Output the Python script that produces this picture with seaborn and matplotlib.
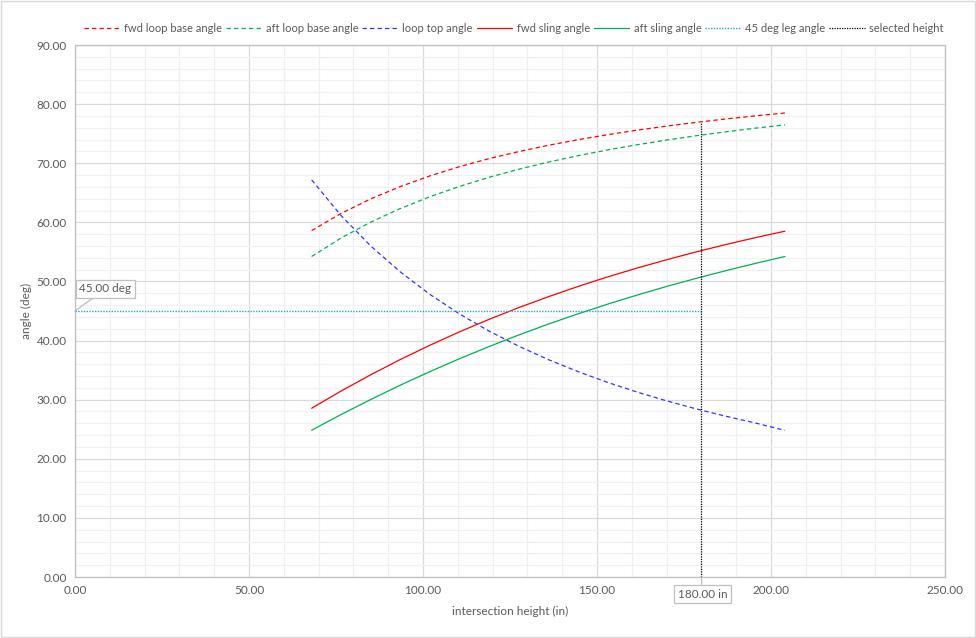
import matplotlib
matplotlib.use("Agg")
import matplotlib.pyplot as plt
from matplotlib.ticker import MultipleLocator, FuncFormatter
from matplotlib.lines import Line2D
import seaborn as sns
import pandas as pd

# ---- data ----
height = [68, 76.5, 85, 93.5, 102, 110.5, 119, 127.5, 136, 144.5, 153, 161.5,
          170, 178.5, 187, 195.5, 204]
fwd_loop_base = [58.60, 61.52, 63.97, 66.06, 67.86, 69.42, 70.78, 71.97, 73.03,
                 73.97, 74.82, 75.59, 76.28, 76.91, 77.49, 78.01, 78.50]
aft_loop_base = [54.22, 57.36, 60.04, 62.34, 64.34, 66.08, 67.62, 68.98, 70.19,
                 71.27, 72.25, 73.12, 73.92, 74.65, 75.31, 75.93, 76.49]
loop_top = [67.18, 61.12, 55.99, 51.60, 47.80, 44.50, 41.60, 39.05, 36.78,
            34.76, 32.93, 31.29, 29.80, 28.44, 27.20, 26.06, 24.80]
fwd_sling = [28.55, 31.47, 34.22, 36.80, 39.21, 41.48, 43.59, 45.57, 47.41,
             49.14, 50.76, 52.26, 53.67, 55.00, 56.24, 57.41, 58.50]
aft_sling = [24.83, 27.50, 30.03, 32.46, 34.75, 36.93, 38.99, 40.94, 42.78,
             44.51, 46.15, 47.69, 49.15, 50.52, 51.82, 53.05, 54.22]
leg45_x = [0, 180]
leg45_y = [45, 45]
sel_x = [180, 180]
sel_y = [0, 77.0]

series_names = ["fwd loop base angle", "aft loop base angle", "loop top angle",
                "fwd sling angle", "aft sling angle", "45 deg leg angle",
                "selected height"]
x_ticks = [0, 50, 100, 150, 200, 250]
y_ticks = [0, 10, 20, 30, 40, 50, 60, 70, 80, 90]

# ---- styling ----
sns.set_style("white")
plt.rcParams['font.family'] = ['Lato', 'DejaVu Sans']
TXT = "#595959"

fig = plt.figure(figsize=(9.76, 6.38), dpi=100)
ax = fig.add_axes([75/976, 1-577/638, 870/976, 532/638])

dash = (3.5, 2.5)
styles = {
    "fwd loop base angle": dict(color="#FF0000", ls=(0, dash), lw=0.9),
    "aft loop base angle": dict(color="#00B050", ls=(0, dash), lw=0.9),
    "loop top angle": dict(color="#3333FF", ls=(0, dash), lw=0.9),
    "fwd sling angle": dict(color="#FF0000", ls="-", lw=0.9),
    "aft sling angle": dict(color="#00B050", ls="-", lw=0.9),
    "45 deg leg angle": dict(color="#1FA3E0", ls=(0, (1, 1)), lw=1.0),
    "selected height": dict(color="#000000", ls=(0, (1, 1)), lw=0.9),
}

data = {
    "fwd loop base angle": (height, fwd_loop_base),
    "aft loop base angle": (height, aft_loop_base),
    "loop top angle": (height, loop_top),
    "fwd sling angle": (height, fwd_sling),
    "aft sling angle": (height, aft_sling),
    "45 deg leg angle": (leg45_x, leg45_y),
    "selected height": (sel_x, sel_y),
}

for name in series_names:
    xs, ys = data[name]
    df = pd.DataFrame({"x": xs, "y": ys})
    st = styles[name]
    sns.lineplot(data=df, x="x", y="y", ax=ax, color=st["color"],
                 linestyle=st["ls"], linewidth=st["lw"], sort=False,
                 estimator=None, zorder=3)

ax.set_xlim(0, 250)
ax.set_ylim(0, 90)
ax.xaxis.set_minor_locator(MultipleLocator(10))
ax.yaxis.set_minor_locator(MultipleLocator(2))
ax.set_xticks(x_ticks)
ax.set_yticks(y_ticks)
fmt = FuncFormatter(lambda v, p: f"{v:.2f}")
ax.xaxis.set_major_formatter(fmt)
ax.yaxis.set_major_formatter(fmt)
ax.grid(which="major", color="#D9D9D9", lw=0.9, zorder=0)
ax.grid(which="minor", color="#F0F0F0", lw=0.9, zorder=0)
ax.set_axisbelow(True)
ax.tick_params(which="both", length=0, labelsize=8.5, colors=TXT, pad=6)
for sp in ax.spines.values():
    sp.set_color("#BFBFBF")
    sp.set_linewidth(0.9)

ax.set_xlabel("intersection height (in)", color=TXT, fontsize=8.5, labelpad=7)
ax.set_ylabel("angle (deg)", color=TXT, fontsize=8.5, labelpad=3)

# callout labels
box = dict(boxstyle="square,pad=0.3", fc="white", ec="#BFBFBF", lw=0.9)
ax.annotate("45.00 deg", xy=(0, 45), xytext=(22, 16), textcoords="offset points",
            ha="center", va="center", fontsize=8.5, color=TXT, bbox=box,
            arrowprops=dict(arrowstyle="-", color="#BFBFBF", lw=0.9,
                            shrinkA=0, shrinkB=0), zorder=5,
            annotation_clip=False)
ax.annotate("180.00 in", xy=(180, 0), xytext=(0.7, -12.5), textcoords="offset points",
            ha="center", va="center", fontsize=8.5, color=TXT, bbox=box,
            arrowprops=dict(arrowstyle="-", color="#BFBFBF", lw=0.9,
                            shrinkA=0, shrinkB=0), zorder=5,
            annotation_clip=False)

# legend
handles = [Line2D([], [], color=styles[n]["color"], linestyle=styles[n]["ls"],
                  linewidth=styles[n]["lw"]) for n in series_names]
leg = fig.legend(handles, series_names, loc="center",
                 bbox_to_anchor=(514/976, 1 - 28/638), ncol=7, frameon=False,
                 fontsize=8.0, handlelength=3.2, handletextpad=0.4,
                 columnspacing=0.35, borderpad=0)
for t in leg.get_texts():
    t.set_color(TXT)

# outer chart border
fig.patches.append(plt.Rectangle((0.001, 0.001), 0.998, 0.998,
                                 transform=fig.transFigure, fill=False,
                                 ec="#D9D9D9", lw=1))

fig.savefig("out.png", dpi=100)
